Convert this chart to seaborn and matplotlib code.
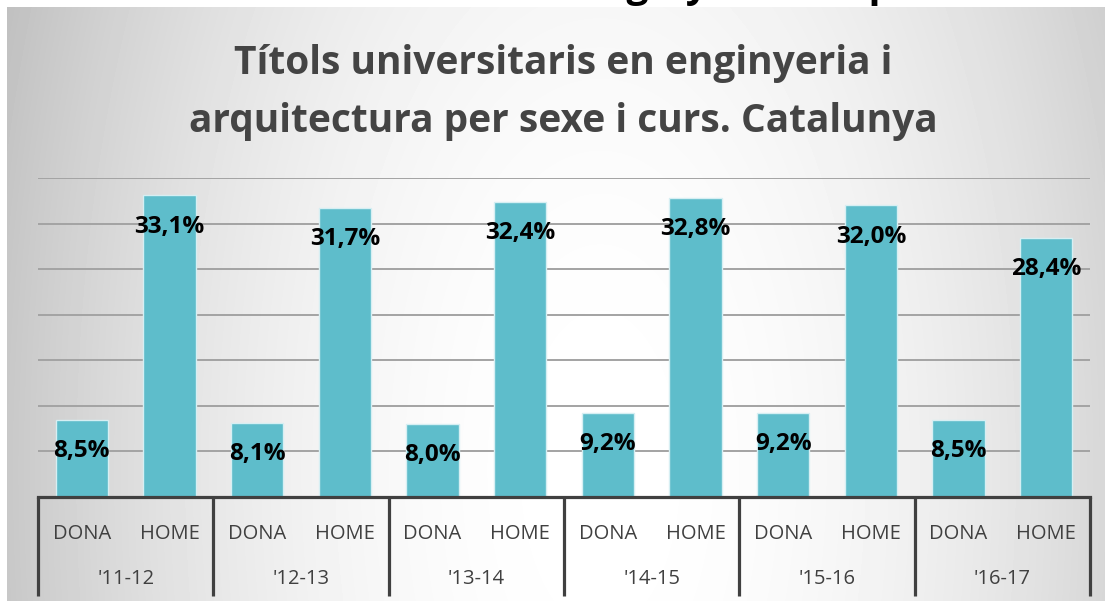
import numpy as np
import pandas as pd
import matplotlib
matplotlib.use("Agg")
import matplotlib.pyplot as plt
import seaborn as sns

# ---- data ----
courses = ["'11-12", "'12-13", "'13-14", "'14-15", "'15-16", "'16-17"]
sexes = ["DONA", "HOME"]
dona = [8.5, 8.1, 8.0, 9.2, 9.2, 8.5]
home = [33.1, 31.7, 32.4, 32.8, 32.0, 28.4]
title_lines = ["Títols universitaris en enginyeria i",
               "arquitectura per sexe i curs. Catalunya"]
y_ticks = [0, 5, 10, 15, 20, 25, 30, 35]

rows = []
for c, d, h in zip(courses, dona, home):
    rows.append({"key": f"DONA {c}", "curs": c, "sexe": "DONA", "valor": d})
    rows.append({"key": f"HOME {c}", "curs": c, "sexe": "HOME", "valor": h})
df = pd.DataFrame(rows)

W, H, DPI = 1107, 601, 100
sns.set_theme(style="white")
plt.rcParams['font.family'] = ['Open Sans', 'DejaVu Sans']

fig = plt.figure(figsize=(W / DPI, H / DPI), dpi=DPI)
fig.patch.set_facecolor("white")

# ---- radial gradient background ----
bx0, by0 = 7, 7
bg = fig.add_axes([bx0 / W, 0, (W - bx0 - 2) / W, (H - by0) / H], zorder=-10)
xs = np.arange(bx0, W - 2)
ys = np.arange(by0, H)
X, Y = np.meshgrid(xs, ys)
cx, cy = 600, 470
r2 = ((X - cx) / 600.0) ** 2 + ((Y - cy) / 1200.0) ** 2
val = np.clip(1 - 0.22 * r2, 0, 1)
bg.imshow(val, cmap="gray", vmin=0, vmax=1, aspect="auto",
          extent=[0, 1, 0, 1], origin="upper", interpolation="bilinear")
bg.set_axis_off()

# cropped text from the slide above (only descenders visible), clipped to a strip
strip = fig.add_axes([0, 1 - 7 / H, 1, 7 / H], zorder=-5)
strip.set_axis_off()
strip.set_xlim(0, W)
strip.set_ylim(0, 7)
strip.text(578, 1, "enginyeria i arquitectura", ha="left", va="bottom",
           fontsize=28, fontweight="bold", color="black", clip_on=True)

# ---- main axes ----
left, right, base, top = 38, 1090, 497, 178
ax = fig.add_axes([left / W, (H - base) / H, (right - left) / W, (base - top) / H])
ax.set_facecolor("none")

sns.barplot(data=df, x="key", y="valor", color="#5EBDCB", saturation=1,
            width=0.6, edgecolor="#d6eff3", linewidth=1.0, ax=ax, zorder=2)

ax.set_ylim(0, 35)
ax.set_xlim(-0.5, len(df) - 0.5)
ax.set_yticks(y_ticks)
ax.set_yticklabels([])
ax.yaxis.grid(True, color="#a3a3a3", lw=1.4)
ax.set_axisbelow(True)
ax.tick_params(length=0)
ax.set_xticks([])
ax.set_xlabel("")
ax.set_ylabel("")
for s in ["top", "right", "left"]:
    ax.spines[s].set_visible(False)
ax.spines["bottom"].set_color("#404040")
ax.spines["bottom"].set_linewidth(2.3)

# value labels
for i, v in enumerate(df["valor"]):
    ax.annotate(f"{v:.1f}%".replace(".", ","), (i, v), xytext=(0, -22.5),
                textcoords="offset points", ha="center", va="center",
                fontsize=17.5, fontweight="bold", color="black", zorder=5)

# two-level axis labels
ph = base - top
tr = ax.get_xaxis_transform()
for i, s in enumerate(df["sexe"]):
    ax.text(i, -37 / ph, s, transform=tr, ha="center", va="center",
            fontsize=14.5, color="#404040", clip_on=False)
for k, c in enumerate(courses):
    ax.text(2 * k + 0.5, -82 / ph, c, transform=tr, ha="center", va="center",
            fontsize=14.5, color="#404040", clip_on=False)
for k in range(len(courses) + 1):
    xb = 2 * k - 0.5
    ax.plot([xb, xb], [0, -99 / ph], transform=tr, color="#404040", lw=2.3,
            clip_on=False, solid_capstyle="butt")

# title
for j, line in enumerate(title_lines):
    fig.text(563 / W, 1 - (74 + 58 * j) / H, line, ha="center", va="baseline",
             fontsize=28, fontweight="bold", color="#444444")

fig.savefig("out.png", dpi=DPI)
